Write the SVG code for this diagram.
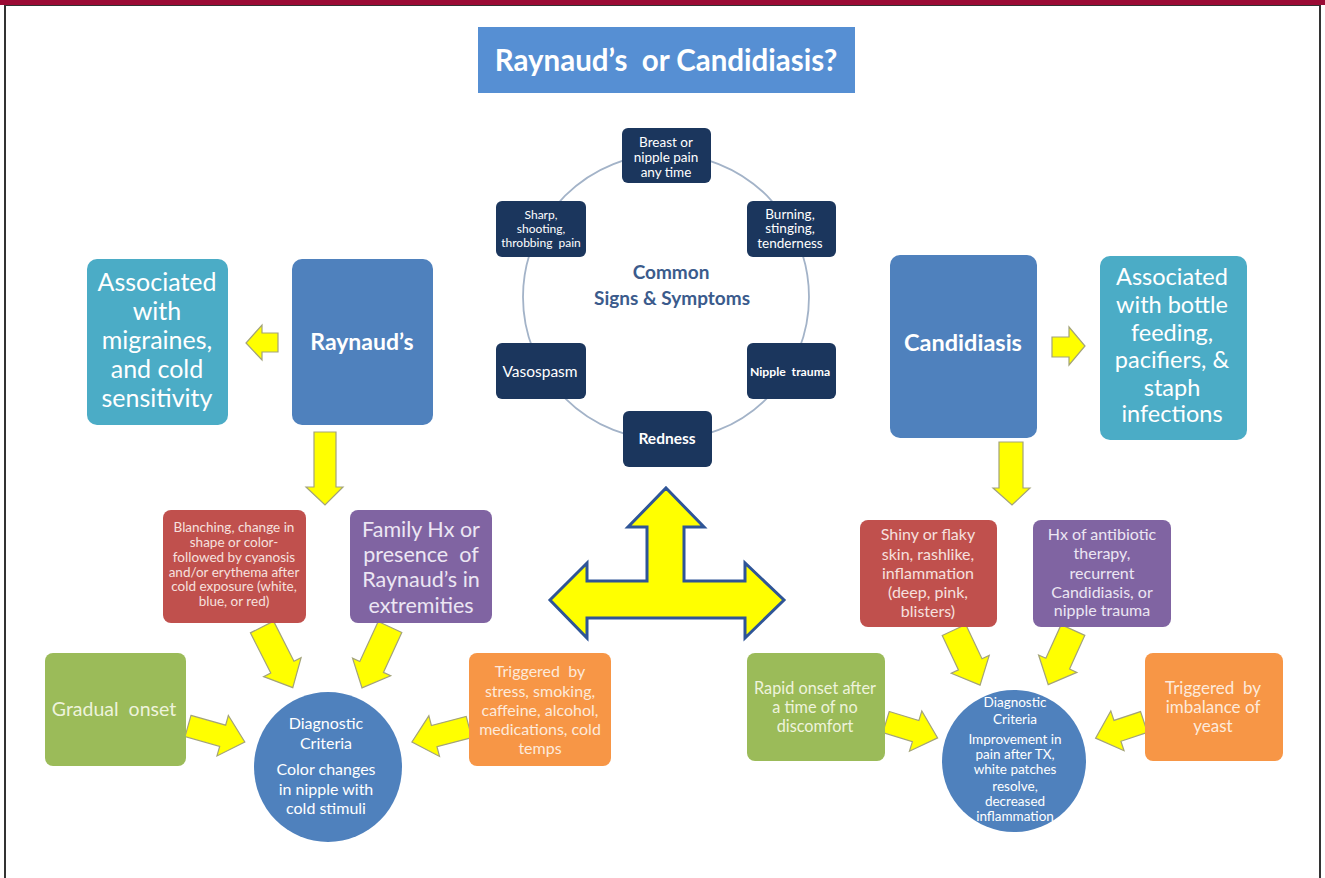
<svg xmlns="http://www.w3.org/2000/svg" width="1325" height="878" viewBox="0 0 1325 878">
<style>
text{font-family:Lato,"Open Sans","Liberation Sans",sans-serif;text-anchor:middle;fill:#fff}
.ya{fill:#ffff00;stroke:#a3a37a;stroke-width:1.2;stroke-linejoin:miter}
.nav{fill:#1b365d}
.nt{font-size:13.5px}
.b{font-weight:bold}
.main{fill:#4f81bd}
.assoc{fill:#4bacc6}
.red{fill:#c0504d}
.pur{fill:#8064a2}
.grn{fill:#9bbb59}
.org{fill:#f79646}
.gt{fill:#eef3dc}
.ot{fill:#fdeadb}
.rt{fill:#f6e0df}
.pt{fill:#ece6f3}
</style>
<rect x="0" y="0" width="1325" height="878" fill="#fff"/>
<rect x="5" y="5" width="1315" height="880" fill="#fff" stroke="#333" stroke-width="2"/>
<rect x="0" y="0" width="1325" height="5" fill="#9b0b35"/>

<g id="connectors">
  <circle cx="666" cy="297" r="143" fill="none" stroke="#a3b3c8" stroke-width="1.8"/>
  <polygon class="ya" points="278,333 278,352 262,352 262,360 246,343 262,325 262,333"/>
  <polygon class="ya" points="1052,337 1069,337 1069,327 1085,346 1069,365 1069,357 1052,357"/>
  <polygon class="ya" points="314,432 336,432 336,487 343,487 325,505 306,487 314,487"/>
  <polygon class="ya" points="999,442 1023,442 1023,488 1030,488 1012,505 993,488 999,488"/>
  <polygon class="ya" points="0,-13 45,-13 45,-21 68,0 45,21 45,13 0,13" transform="translate(262,627) rotate(63.1)"/>
  <polygon class="ya" points="0,-13 44,-13 44,-21 67,0 44,21 44,13 0,13" transform="translate(390,627) rotate(114.7)"/>
  <polygon class="ya" points="0,-11 36,-11 36,-21 59,0 36,21 36,11 0,11" transform="translate(188,726) rotate(15.7)"/>
  <polygon class="ya" points="0,-11 36,-11 36,-21 59,0 36,21 36,11 0,11" transform="translate(469,727) rotate(165.3)"/>
  <polygon class="ya" points="0,-13 38,-13 38,-21 61,0 38,21 38,13 0,13" transform="translate(954,630) rotate(64.7)"/>
  <polygon class="ya" points="0,-13 37,-13 37,-21 60,0 37,21 37,13 0,13" transform="translate(1073,630) rotate(114.4)"/>
  <polygon class="ya" points="0,-11 31,-11 31,-21 54,0 31,21 31,11 0,11" transform="translate(886,722) rotate(17.1)"/>
  <polygon class="ya" points="0,-11 28,-11 28,-21 51,0 28,21 28,11 0,11" transform="translate(1144,722) rotate(161.6)"/>
  <polygon points="666,488 704,527 684,527 684,581 745,581 745,563 784,600 745,638 745,618 587,618 587,638 550,600 587,563 587,581 647,581 647,527 628,527" fill="#ffff00" stroke="#2f5597" stroke-width="3"/>
</g>

<g id="title">
  <rect x="478" y="27" width="377" height="66" fill="#568fd3"/>
  <text x="666" y="71" font-size="29.5" class="b" xml:space="preserve">Raynaud’s  or Candidiasis?</text>
</g>

<g id="common-label">
  <text x="671" y="279" font-size="19" class="b" style="fill:#3b5b8c">Common</text>
  <text x="672" y="305" font-size="19" class="b" style="fill:#3b5b8c">Signs &amp; Symptoms</text>
</g>

<g id="sym-breast">
  <rect class="nav" x="622" y="128" width="89" height="55" rx="6"/>
  <text class="nt" x="666" y="147">Breast or</text>
  <text class="nt" x="666" y="162">nipple pain</text>
  <text class="nt" x="666" y="177">any time</text>
</g>
<g id="sym-sharp">
  <rect class="nav" x="496" y="201" width="90" height="56" rx="6"/>
  <text x="541" y="219" font-size="12">Sharp,</text>
  <text x="541" y="233" font-size="12">shooting,</text>
  <text x="541" y="247" font-size="12" xml:space="preserve">throbbing  pain</text>
</g>
<g id="sym-burning">
  <rect class="nav" x="747" y="201" width="89" height="56" rx="6"/>
  <text class="nt" x="790" y="219">Burning,</text>
  <text class="nt" x="790" y="233">stinging,</text>
  <text class="nt" x="790" y="248">tenderness</text>
</g>
<g id="sym-vasospasm">
  <rect class="nav" x="496" y="343" width="90" height="56" rx="6"/>
  <text x="540" y="377" font-size="15.5">Vasospasm</text>
</g>
<g id="sym-nipple">
  <rect class="nav" x="747" y="343" width="89" height="56" rx="6"/>
  <text x="790" y="376" font-size="12.2" class="b" xml:space="preserve">Nipple  trauma</text>
</g>
<g id="sym-redness">
  <rect class="nav" x="623" y="411" width="89" height="56" rx="6"/>
  <text x="667" y="444" font-size="15.5" class="b">Redness</text>
</g>

<g id="raynauds">
  <rect class="main" x="292" y="259" width="141" height="166" rx="10"/>
  <text x="362" y="350" font-size="23" class="b">Raynaud’s</text>
</g>
<g id="assoc-left">
  <rect class="assoc" x="87" y="259" width="141" height="166" rx="10"/>
  <text x="157" y="291" font-size="25">Associated</text>
  <text x="157" y="320" font-size="25">with</text>
  <text x="157" y="349" font-size="25">migraines,</text>
  <text x="157" y="378" font-size="25">and cold</text>
  <text x="157" y="407" font-size="25">sensitivity</text>
</g>
<g id="blanching">
  <rect class="red" x="163" y="510" width="143" height="113" rx="8"/>
  <text class="rt" x="234" y="532" font-size="13.5">Blanching, change in</text>
  <text class="rt" x="234" y="547" font-size="13.5">shape or color-</text>
  <text class="rt" x="234" y="562" font-size="13.5">followed by cyanosis</text>
  <text class="rt" x="234" y="577" font-size="13.5">and/or erythema after</text>
  <text class="rt" x="234" y="591" font-size="13.5">cold exposure (white,</text>
  <text class="rt" x="234" y="606" font-size="13.5">blue, or red)</text>
</g>
<g id="family">
  <rect class="pur" x="350" y="510" width="142" height="113" rx="8"/>
  <text class="pt" x="421" y="537" font-size="21.5">Family Hx or</text>
  <text class="pt" x="421" y="562" font-size="21.5" xml:space="preserve">presence  of</text>
  <text class="pt" x="421" y="587" font-size="21.5">Raynaud’s in</text>
  <text class="pt" x="421" y="613" font-size="21.5">extremities</text>
</g>
<g id="gradual">
  <rect class="grn" x="45" y="653" width="141" height="113" rx="8"/>
  <text class="gt" x="114" y="716" font-size="19.5" xml:space="preserve">Gradual  onset</text>
</g>
<g id="trigger-left">
  <rect class="org" x="469" y="653" width="142" height="113" rx="8"/>
  <text class="ot" x="540" y="677" font-size="16" xml:space="preserve">Triggered  by</text>
  <text class="ot" x="540" y="697" font-size="16">stress, smoking,</text>
  <text class="ot" x="540" y="716" font-size="16">caffeine, alcohol,</text>
  <text class="ot" x="540" y="735" font-size="16">medications, cold</text>
  <text class="ot" x="540" y="754" font-size="16">temps</text>
</g>
<g id="diag-left">
  <ellipse class="main" cx="328" cy="767" rx="74" ry="75"/>
  <text x="326" y="729" font-size="16">Diagnostic</text>
  <text x="326" y="749" font-size="16">Criteria</text>
  <text x="326" y="775" font-size="16">Color changes</text>
  <text x="326" y="795" font-size="16">in nipple with</text>
  <text x="326" y="814" font-size="16">cold stimuli</text>
</g>

<g id="candidiasis">
  <rect class="main" x="890" y="255" width="147" height="183" rx="10"/>
  <text x="963" y="351" font-size="23.5" class="b">Candidiasis</text>
</g>
<g id="assoc-right">
  <rect class="assoc" x="1100" y="256" width="147" height="184" rx="10"/>
  <text x="1172" y="285" font-size="23.5">Associated</text>
  <text x="1172" y="313" font-size="23.5">with bottle</text>
  <text x="1172" y="341" font-size="23.5">feeding,</text>
  <text x="1172" y="368" font-size="23.5">pacifiers, &amp;</text>
  <text x="1172" y="396" font-size="23.5">staph</text>
  <text x="1172" y="422" font-size="23.5">infections</text>
</g>
<g id="shiny">
  <rect class="red" x="860" y="520" width="137" height="107" rx="8"/>
  <text class="rt" x="928" y="540" font-size="16">Shiny or flaky</text>
  <text class="rt" x="928" y="560" font-size="16">skin, rashlike,</text>
  <text class="rt" x="928" y="579" font-size="16">inflammation</text>
  <text class="rt" x="928" y="598" font-size="16">(deep, pink,</text>
  <text class="rt" x="928" y="617" font-size="16">blisters)</text>
</g>
<g id="hx-antibiotic">
  <rect class="pur" x="1033" y="520" width="138" height="107" rx="8"/>
  <text class="pt" x="1102" y="540" font-size="16">Hx of antibiotic</text>
  <text class="pt" x="1102" y="559" font-size="16">therapy,</text>
  <text class="pt" x="1102" y="579" font-size="16">recurrent</text>
  <text class="pt" x="1102" y="598" font-size="16">Candidiasis, or</text>
  <text class="pt" x="1102" y="616" font-size="16">nipple trauma</text>
</g>
<g id="rapid">
  <rect class="grn" x="747" y="653" width="138" height="108" rx="8"/>
  <text class="gt" x="815" y="694" font-size="16.3">Rapid onset after</text>
  <text class="gt" x="815" y="713" font-size="16.3">a time of no</text>
  <text class="gt" x="815" y="732" font-size="16.3">discomfort</text>
</g>
<g id="trigger-right">
  <rect class="org" x="1145" y="653" width="138" height="108" rx="8"/>
  <text class="ot" x="1213" y="694" font-size="17" xml:space="preserve">Triggered  by</text>
  <text class="ot" x="1213" y="713" font-size="17">imbalance of</text>
  <text class="ot" x="1213" y="732" font-size="17">yeast</text>
</g>
<g id="diag-right">
  <ellipse class="main" cx="1014" cy="761" rx="72" ry="71"/>
  <text x="1015" y="707" font-size="13.5">Diagnostic</text>
  <text x="1015" y="724" font-size="13.5">Criteria</text>
  <text x="1015" y="744" font-size="13.5">Improvement in</text>
  <text x="1015" y="759" font-size="13.5">pain after TX,</text>
  <text x="1015" y="774" font-size="13.5">white patches</text>
  <text x="1015" y="791" font-size="13.5">resolve,</text>
  <text x="1015" y="806" font-size="13.5">decreased</text>
  <text x="1015" y="821" font-size="13.5">inflammation</text>
</g>
</svg>
